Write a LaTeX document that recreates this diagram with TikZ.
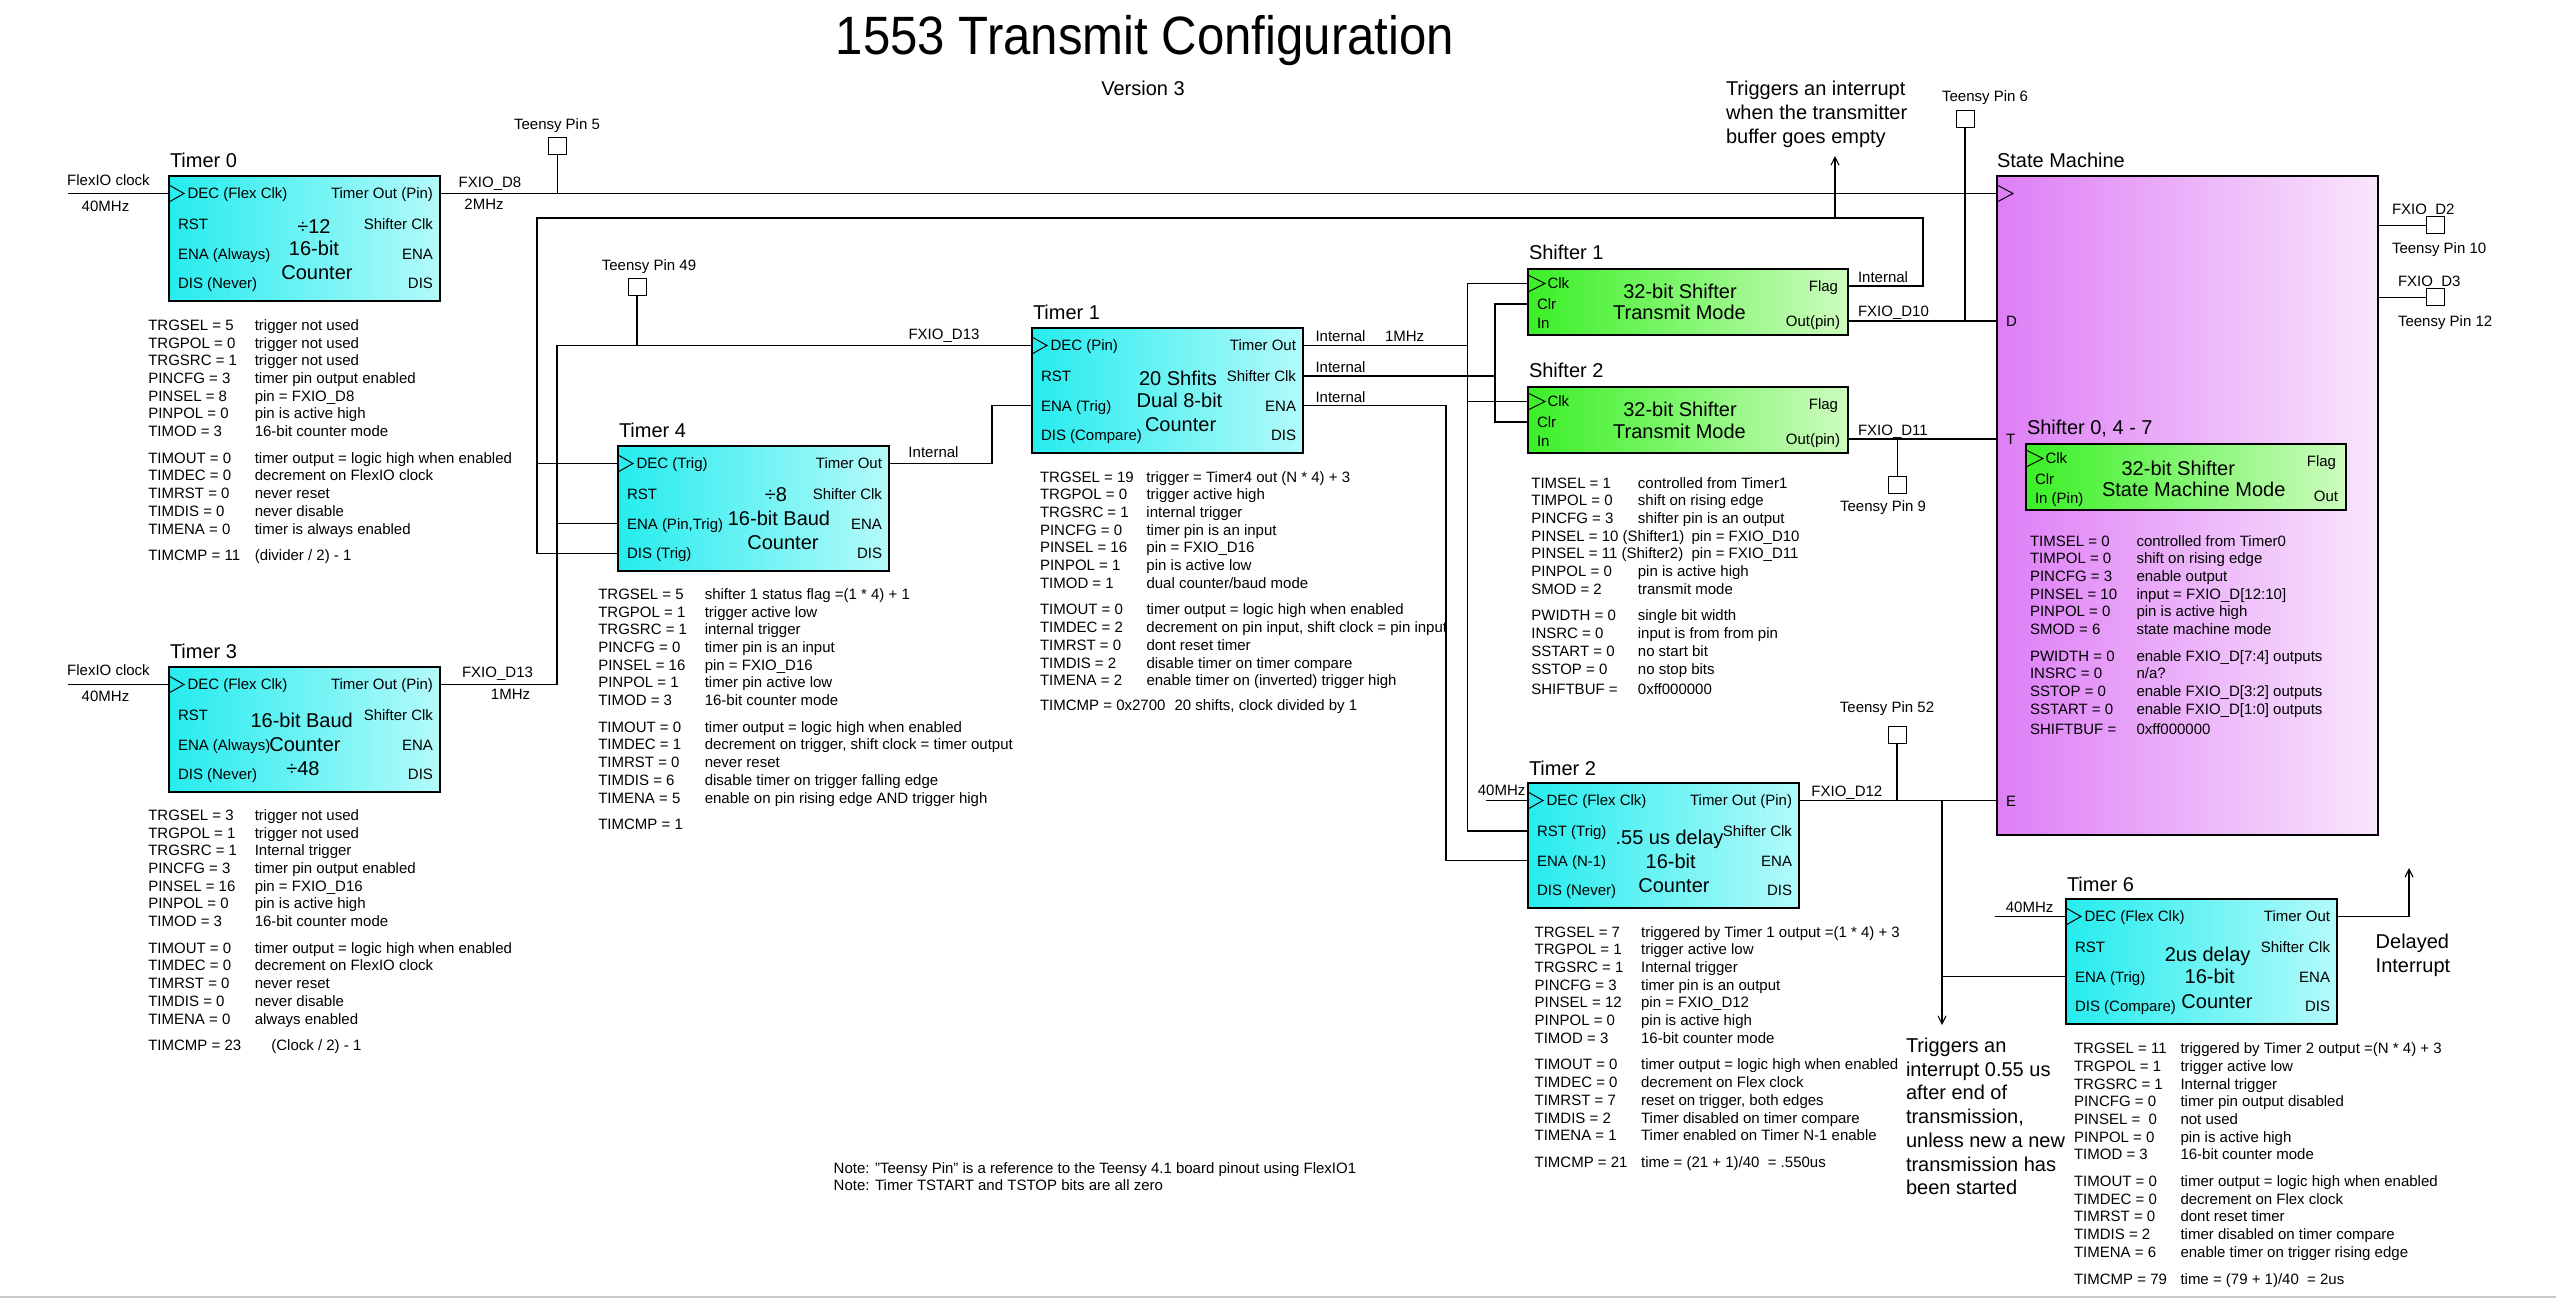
\documentclass[tikz,border=0pt]{standalone}
\usepackage{fontspec}
\usepackage{graphicx}
\setmainfont{Liberation Sans}
\usetikzlibrary{arrows.meta}
\definecolor{cyL}{RGB}{38,236,238}
\definecolor{cyR}{RGB}{180,250,250}
\definecolor{grL}{RGB}{58,240,38}
\definecolor{grR}{RGB}{205,252,190}
\definecolor{puL}{RGB}{222,126,246}
\definecolor{puR}{RGB}{249,230,252}
\tikzset{
 every node/.style={inner sep=0pt,outer sep=0pt},
 wire/.style={line width=0.55pt},
 arr/.style={wire,-{Straight Barb[length=4pt,width=4pt]}},
 fs/.style={font=\fontsize{7.5}{8.85}\selectfont},
 fb/.style={font=\fontsize{10}{12}\selectfont},
 lt/.style={fs,anchor=base west,yshift=-2.68pt},
 rt/.style={fs,anchor=base east,yshift=-2.68pt},
 ct/.style={fs,anchor=base,yshift=-2.68pt},
 blt/.style={fb,anchor=base west,yshift=-3.58pt},
 bct/.style={fb,anchor=base,yshift=-3.58pt},
 ttl/.style={fb,anchor=base west},
 tbox/.style={draw,line width=1.1pt,left color=cyL,right color=cyR,anchor=north west,minimum width=135.5pt,minimum height=62.5pt},
 sbox/.style={draw,line width=1.1pt,left color=grL,right color=grR,anchor=north west,minimum width=160pt,minimum height=33pt},
 tpin/.style={draw,line width=0.5pt,fill=white,minimum width=9pt,minimum height=8.5pt},
 plist/.style={fs,anchor=north west},
}
\newcommand\tmrblk[9][]{%
 \node[tbox,#1] (#2) at (#3) {};
 \node[ttl] (#2-tt) at ([shift={(1,-8)}]#2.north west) {#4};
 \node[lt] (#2-l1) at ([shift={(18.5,17.5)}]#2.north west) {#5};
 \node[rt] (#2-r1) at ([shift={(-7,17.5)}]#2.north east) {#6};
 \node[lt] (#2-l2) at ([shift={(9,48.5)}]#2.north west) {#7};
 \node[rt] (#2-r2) at ([shift={(-7,48.5)}]#2.north east) {Shifter Clk};
 \node[lt] (#2-l3) at ([shift={(9,78)}]#2.north west) {#8};
 \node[rt] (#2-r3) at ([shift={(-7,78)}]#2.north east) {ENA};
 \node[lt] (#2-l4) at ([shift={(9,107.5)}]#2.north west) {#9};
 \node[rt] (#2-r4) at ([shift={(-7,107.5)}]#2.north east) {DIS};
 \draw[line width=0.5pt] ([shift={(0,9)}]#2.north west) -- ([shift={(15,17.5)}]#2.north west) -- ([shift={(0,26)}]#2.north west);
 \coordinate (#2-dec) at ([shift={(0,17.5)}]#2.north west);
 \coordinate (#2-rst) at ([shift={(0,48)}]#2.north west);
 \coordinate (#2-ena) at ([shift={(0,77.5)}]#2.north west);
 \coordinate (#2-dis) at ([shift={(0,107.5)}]#2.north west);
 \coordinate (#2-out) at ([shift={(0,17.5)}]#2.north east);
 \coordinate (#2-sclk) at ([shift={(0,48)}]#2.north east);
 \coordinate (#2-oena) at ([shift={(0,77.5)}]#2.north east);
}
\newcommand\shfblk[5]{%
 \node[sbox] (#1) at (#2) {};
 \node[ttl] (#1-tt) at ([shift={(1,-9)}]#1.north west) {#3};
 \node[lt] (#1-a) at ([shift={(19.5,14.5)}]#1.north west) {Clk};
 \node[lt] (#1-b) at ([shift={(9,35)}]#1.north west) {Clr};
 \node[lt] (#1-c) at ([shift={(9,54)}]#1.north west) {#4};
 \node[rt] (#1-d) at ([shift={(-10,17)}]#1.north east) {Flag};
 \node[rt] (#1-e) at ([shift={(-8,52)}]#1.north east) {#5};
 \draw[line width=0.5pt] ([shift={(0,6)}]#1.north west) -- ([shift={(17,14.5)}]#1.north west) -- ([shift={(0,23)}]#1.north west);
 \coordinate (#1-clk) at ([shift={(0,14.5)}]#1.north west);
 \coordinate (#1-clr) at ([shift={(0,35)}]#1.north west);
 \coordinate (#1-flag) at ([shift={(0,17)}]#1.north east);
 \coordinate (#1-out) at ([shift={(0,52)}]#1.north east);
}
\newcommand\plst[3]{\node[plist] (#1) at (#2) {\begin{tabular}{@{}p{53.25pt}@{}l@{}}#3\end{tabular}};}
\begin{document}
\begin{tikzpicture}[x=0.5pt,y=-0.5pt]
\useasboundingbox (0,0) rectangle (2556,1299);
\fill[white] (0,0) rectangle (2556,1299);
\draw[black!22,line width=1.2pt] (0,1297) -- (2556,1297);

% title
\node[anchor=base,font=\fontsize{27}{32}\selectfont] (title) at (1145,55) {\scalebox{0.91}[1]{1553 Transmit Configuration}};
\node[bct] (ver) at (1143,88) {Version 3};

% state machine
\node[draw,line width=0.8pt,left color=puL,right color=puR,anchor=north west,minimum width=190.5pt,minimum height=329.5pt] (sm) at (1997,176) {};
\node[blt] (smt) at (1997,160) {State Machine};
\draw[line width=0.5pt] ([shift={(0,9)}]sm.north west) -- ([shift={(16,17.5)}]sm.north west) -- ([shift={(0,26)}]sm.north west);
\coordinate (sm-clk) at ([shift={(0,17.5)}]sm.north west);
\node[lt] (smD) at (2006,321) {D};
\node[lt] (smT) at (2006,439) {T};
\node[lt] (smE) at (2006,801) {E};

% timers
\tmrblk{t0}{169,176}{Timer 0}{DEC (Flex Clk)}{Timer Out (Pin)}{RST}{ENA (Always)}{DIS (Never)}
\node[bct] (t0c1) at (314,226) {÷12};
\node[bct] (t0c2) at (314,248) {16-bit};
\node[bct] (t0c3) at (317,272) {Counter};

\tmrblk{t3}{169,667}{Timer 3}{DEC (Flex Clk)}{Timer Out (Pin)}{RST}{ENA (Always)}{DIS (Never)}
\node[bct] (t3c1) at (301.7,720) {16-bit Baud};
\node[bct] (t3c2) at (305,744) {Counter};
\node[bct] (t3c3) at (303,768) {÷48};

\tmrblk{t4}{618,446}{Timer 4}{DEC (Trig)}{Timer Out}{RST}{ENA (Pin,Trig)}{DIS (Trig)}
\node[bct] (t4c1) at (776,494.5) {÷8};
\node[bct] (t4c2) at (779,518.6) {16-bit Baud};
\node[bct] (t4c3) at (783,542) {Counter};

\tmrblk[line width=0.6pt]{t1}{1032,328}{Timer 1}{DEC (Pin)}{Timer Out}{RST}{ENA (Trig)}{DIS (Compare)}
\node[bct] (t1c1) at (1178,378.3) {20 Shfits};
\node[bct] (t1c2) at (1179.5,400.7) {Dual 8-bit};
\node[bct] (t1c3) at (1180.6,424) {Counter};

\tmrblk{t2}{1528,783}{Timer 2}{DEC (Flex Clk)}{Timer Out (Pin)}{RST (Trig)}{ENA (N-1)}{DIS (Never)}
\node[bct] (t2c1) at (1669.5,837.3) {.55 us delay};
\node[bct] (t2c2) at (1670.7,861) {16-bit};
\node[bct] (t2c3) at (1674,885) {Counter};

\tmrblk{t6}{2066,899}{Timer 6}{DEC (Flex Clk)}{Timer Out}{RST}{ENA (Trig)}{DIS (Compare)}
\node[bct] (t6c1) at (2207.6,954) {2us delay};
\node[bct] (t6c2) at (2209.7,976.7) {16-bit};
\node[bct] (t6c3) at (2217,1001.7) {Counter};

% shifters
\shfblk{sh1}{1528,269}{Shifter 1}{In}{Out(pin)}
\node[bct] (sh1c1) at (1680,291) {32-bit Shifter};
\node[bct] (sh1c2) at (1679.5,312.3) {Transmit Mode};
\shfblk{sh2}{1528,387}{Shifter 2}{In}{Out(pin)}
\node[bct] (sh2c1) at (1680,409.5) {32-bit Shifter};
\node[bct] (sh2c2) at (1679.5,431) {Transmit Mode};
\shfblk{sh0}{2026,444}{Shifter 0, 4 - 7}{In (Pin)}{Out}
\node[bct] (sh0c1) at (2178.3,468.3) {32-bit Shifter};
\node[bct] (sh0c2) at (2193.7,489.3) {State Machine Mode};

% teensy pins
\node[tpin] (p5) at (557.5,146) {};
\node[ct] (p5t) at (557,124) {Teensy Pin 5};
\node[tpin] (p49) at (637,287.5) {};
\node[ct] (p49t) at (649,265) {Teensy Pin 49};
\node[tpin] (p6) at (1965,119) {};
\node[ct] (p6t) at (1985,96) {Teensy Pin 6};
\node[tpin] (p9) at (1897.5,485.5) {};
\node[ct] (p9t) at (1883,506) {Teensy Pin 9};
\node[tpin] (p52) at (1897,735) {};
\node[ct] (p52t) at (1887,707) {Teensy Pin 52};
\node[tpin] (p10) at (2435.5,225.5) {};
\node[lt] (p10a) at (2392,209) {FXIO\_D2};
\node[lt] (p10t) at (2392,248) {Teensy Pin 10};
\node[tpin] (p12) at (2435.5,297.5) {};
\node[lt] (p12a) at (2398,281) {FXIO\_D3};
\node[lt] (p12t) at (2398,320.7) {Teensy Pin 12};

% helper coordinates
\coordinate (clkin) at (68,0);
\coordinate (bA) at (1467.5,0);
\coordinate (bB) at (1495,0);
\coordinate (bC) at (1446,0);
\coordinate (bL) at (537,218);
\coordinate (bM) at (557,0);
\coordinate (fl) at (1923,218);
\coordinate (intA) at (1835,156);
\coordinate (j4) at (992,0);
\coordinate (j2) at (1942,1025);
\coordinate (c2) at (1486,0);
\coordinate (c6) at (1995,0);
\coordinate (a6) at (2409,868);

% connectors
\draw[wire] (clkin |- t0-dec) -- (t0-dec);
\draw[wire] (clkin |- t3-dec) -- (t3-dec);
\draw[wire] (t0-out) -- (sm-clk);
\draw[wire] (p5.south) -- (p5.south |- t0-out);
\draw[wire] (t3-out) -| (bM |- t1-dec) -- (t1-dec);
\draw[wire] (bM |- t4-ena) -- (t4-ena);
\draw[wire] (p49.south) -- (p49.south |- t1-dec);
\draw[wire] (sh1-flag) -| (fl) -- (bL) -- (bL |- t4-dis) -- (t4-dis);
\draw[wire] (bL |- t4-dec) -- (t4-dec);
\draw[arr] (intA |- fl) -- (intA);
\draw[wire] (t4-out) -| (j4 |- t1-ena) -- (t1-ena);
\draw[wire] (t1-out) -- (bA |- t1-out);
\draw[wire] (sh1-clk) -| (bA |- t2-rst) -- (t2-rst);
\draw[wire] (bA |- sh2-clk) -- (sh2-clk);
\draw[wire] (t1-sclk) -- (bB |- t1-sclk);
\draw[wire] (sh1-clr) -| (bB |- sh2-clr) -- (sh2-clr);
\draw[wire] (t1-oena) -| (bC |- t2-ena) -- (t2-ena);
\draw[wire] (sh1-out) -- (sh1-out -| sm.west);
\draw[wire] (p6.south) -- (p6.south |- sh1-out);
\draw[wire] (sh2-out) -- (sh2-out -| sm.west);
\draw[wire] (p9.north) -- (p9.north |- sh2-out);
\draw[wire] (c2 |- t2-dec) -- (t2-dec);
\draw[wire] (t2-out) -- (t2-out -| sm.west);
\draw[wire] (p52.south) -- (p52.south |- t2-out);
\draw[arr] (j2 |- t2-out) -- (j2);
\draw[wire] (j2 |- t6-ena) -- (t6-ena);
\draw[wire] (c6 |- t6-dec) -- (t6-dec);
\draw[arr] (t6-out) -| (a6);
\draw[wire] (sm.east |- p10) -- (p10.west);
\draw[wire] (sm.east |- p12) -- (p12.west);

% wire labels
\node[ct] (w1) at (108.5,180) {FlexIO clock};
\node[ct] (w2) at (105.5,206) {40MHz};
\node[ct] (w3) at (108.5,670) {FlexIO clock};
\node[ct] (w4) at (105.5,696.5) {40MHz};
\node[ct] (w5) at (490,182) {FXIO\_D8};
\node[ct] (w6) at (484,204) {2MHz};
\node[ct] (w7) at (497.5,672.5) {FXIO\_D13};
\node[ct] (w8) at (510.5,694) {1MHz};
\node[ct] (w9) at (944,334) {FXIO\_D13};
\node[ct] (w10) at (933.5,451.7) {Internal};
\node[lt] (w11) at (1315.5,336) {Internal};
\node[lt] (w12) at (1385,336) {1MHz};
\node[lt] (w13) at (1315.5,367.3) {Internal};
\node[lt] (w14) at (1315.5,396.7) {Internal};
\node[lt] (w15) at (1858,276.7) {Internal};
\node[lt] (w16) at (1858,311) {FXIO\_D10};
\node[lt] (w17) at (1858,430) {FXIO\_D11};
\node[lt] (w18) at (1811.4,790.7) {FXIO\_D12};
\node[ct] (w19) at (1501.6,790) {40MHz};
\node[ct] (w20) at (2029.6,906.7) {40MHz};

% big annotations
\node[blt] (n1) at (1726,88.3) {Triggers an interrupt};
\node[blt] (n2) at (1726,112.3) {when the transmitter};
\node[blt] (n3) at (1726,136) {buffer goes empty};
\node[blt] (m1) at (1906,1045.7) {Triggers an};
\node[blt] (m2) at (1906,1069.3) {interrupt 0.55 us};
\node[blt] (m3) at (1906,1092.7) {after end of};
\node[blt] (m4) at (1906,1116.7) {transmission,};
\node[blt] (m5) at (1906,1140.7) {unless new a new};
\node[blt] (m6) at (1906,1164) {transmission has};
\node[blt] (m7) at (1906,1187.3) {been started};
\node[blt] (d1) at (2375.7,941.7) {Delayed};
\node[blt] (d2) at (2375.7,965) {Interrupt};

% notes
\node[lt] (note1) at (833.7,1168) {Note: \symbol{34}Teensy Pin\symbol{34} is a reference to the Teensy 4.1 board pinout using FlexIO1};
\node[lt] (note2) at (833.7,1185) {Note: Timer TSTART and TSTOP bits are all zero};

% parameter lists
\plst{L0}{148.3,318}{TRGSEL = 5 & trigger not used\\ TRGPOL = 0 & trigger not used\\ TRGSRC = 1 & trigger not used\\ PINCFG = 3 & timer pin output enabled\\ PINSEL = 8 & pin = FXIO\_D8\\ PINPOL = 0 & pin is active high\\ TIMOD = 3 & 16-bit counter mode\\[4.5pt] TIMOUT = 0 & timer output = logic high when enabled\\ TIMDEC = 0 & decrement on FlexIO clock\\ TIMRST = 0 & never reset\\ TIMDIS = 0 & never disable\\ TIMENA = 0 & timer is always enabled\\[4.5pt] TIMCMP = 11 & (divider / 2) - 1}

\plst{L3}{148.3,808}{TRGSEL = 3 & trigger not used\\ TRGPOL = 1 & trigger not used\\ TRGSRC = 1 & Internal trigger\\ PINCFG = 3 & timer pin output enabled\\ PINSEL = 16 & pin = FXIO\_D16\\ PINPOL = 0 & pin is active high\\ TIMOD = 3 & 16-bit counter mode\\[4.5pt] TIMOUT = 0 & timer output = logic high when enabled\\ TIMDEC = 0 & decrement on FlexIO clock\\ TIMRST = 0 & never reset\\ TIMDIS = 0 & never disable\\ TIMENA = 0 & always enabled\\[4.5pt] TIMCMP = 23 & \hspace{8.3pt}(Clock / 2) - 1}

\plst{L4}{598.3,587}{TRGSEL = 5 & shifter 1 status flag =(1 * 4) + 1\\ TRGPOL = 1 & trigger active low\\ TRGSRC = 1 & internal trigger\\ PINCFG = 0 & timer pin is an input\\ PINSEL = 16 & pin = FXIO\_D16\\ PINPOL = 1 & timer pin active low\\ TIMOD = 3 & 16-bit counter mode\\[4.5pt] TIMOUT = 0 & timer output = logic high when enabled\\ TIMDEC = 1 & decrement on trigger, shift clock = timer output\\ TIMRST = 0 & never reset\\ TIMDIS = 6 & disable timer on trigger falling edge\\ TIMENA = 5 & enable on pin rising edge AND trigger high\\[4.5pt] TIMCMP = 1 & }

\plst{L1}{1040,469.7}{TRGSEL = 19 & trigger = Timer4 out (N * 4) + 3\\ TRGPOL = 0 & trigger active high\\ TRGSRC = 1 & internal trigger\\ PINCFG = 0 & timer pin is an input\\ PINSEL = 16 & pin = FXIO\_D16\\ PINPOL = 1 & pin is active low\\ TIMOD = 1 & dual counter/baud mode\\[4.5pt] TIMOUT = 0 & timer output = logic high when enabled\\ TIMDEC = 2 & decrement on pin input, shift clock = pin input\\ TIMRST = 0 & dont reset timer\\ TIMDIS = 2 & disable timer on timer compare\\ TIMENA = 2 & enable timer on (inverted) trigger high\\[3.5pt] \multicolumn{2}{@{}l@{}}{\makebox[67.3pt][l]{TIMCMP = 0x2700}20 shifts, clock divided by 1}}

\plst{LS}{1531.4,475.7}{TIMSEL = 1 & controlled from Timer1\\ TIMPOL = 0 & shift on rising edge\\ PINCFG = 3 & shifter pin is an output\\ \multicolumn{2}{@{}l@{}}{\makebox[80.1pt][l]{PINSEL = 10 (Shifter1)}pin = FXIO\_D10}\\ \multicolumn{2}{@{}l@{}}{\makebox[80.1pt][l]{PINSEL = 11 (Shifter2)}pin = FXIO\_D11}\\ PINPOL = 0 & pin is active high\\ SMOD = 2 & transmit mode\\[4.5pt] PWIDTH = 0 & single bit width\\ INSRC = 0 & input is from from pin\\ SSTART = 0 & no start bit\\ SSTOP = 0 & no stop bits\\[1.2pt] SHIFTBUF = & 0xff000000}

\plst{L0s}{2030,533.7}{TIMSEL = 0 & controlled from Timer0\\ TIMPOL = 0 & shift on rising edge\\ PINCFG = 3 & enable output\\ PINSEL = 10 & input = FXIO\_D[12:10]\\ PINPOL = 0 & pin is active high\\ SMOD = 6 & state machine mode\\[4.5pt] PWIDTH = 0 & enable FXIO\_D[7:4] outputs\\ INSRC = 0 & n/a?\\ SSTOP = 0 & enable FXIO\_D[3:2] outputs\\ SSTART = 0 & enable FXIO\_D[1:0] outputs\\[1.2pt] SHIFTBUF = & 0xff000000}

\plst{L2}{1534.6,924.7}{TRGSEL = 7 & triggered by Timer 1 output =(1 * 4) + 3\\ TRGPOL = 1 & trigger active low\\ TRGSRC = 1 & Internal trigger\\ PINCFG = 3 & timer pin is an output\\ PINSEL = 12 & pin = FXIO\_D12\\ PINPOL = 0 & pin is active high\\ TIMOD = 3 & 16-bit counter mode\\[4.5pt] TIMOUT = 0 & timer output = logic high when enabled\\ TIMDEC = 0 & decrement on Flex clock\\ TIMRST = 7 & reset on trigger, both edges\\ TIMDIS = 2 & Timer disabled on timer compare\\ TIMENA = 1 & Timer enabled on Timer N-1 enable\\[4.5pt] TIMCMP = 21 & time = (21 + 1)/40\ \ = .550us}

\plst{L6}{2074,1041.3}{TRGSEL = 11 & triggered by Timer 2 output =(N * 4) + 3\\ TRGPOL = 1 & trigger active low\\ TRGSRC = 1 & Internal trigger\\ PINCFG = 0 & timer pin output disabled\\ PINSEL =\ \ 0 & not used\\ PINPOL = 0 & pin is active high\\ TIMOD = 3 & 16-bit counter mode\\[4.5pt] TIMOUT = 0 & timer output = logic high when enabled\\ TIMDEC = 0 & decrement on Flex clock\\ TIMRST = 0 & dont reset timer\\ TIMDIS = 2 & timer disabled on timer compare\\ TIMENA = 6 & enable timer on trigger rising edge\\[4.5pt] TIMCMP = 79 & time = (79 + 1)/40\ \ = 2us}
\end{tikzpicture}
\end{document}
